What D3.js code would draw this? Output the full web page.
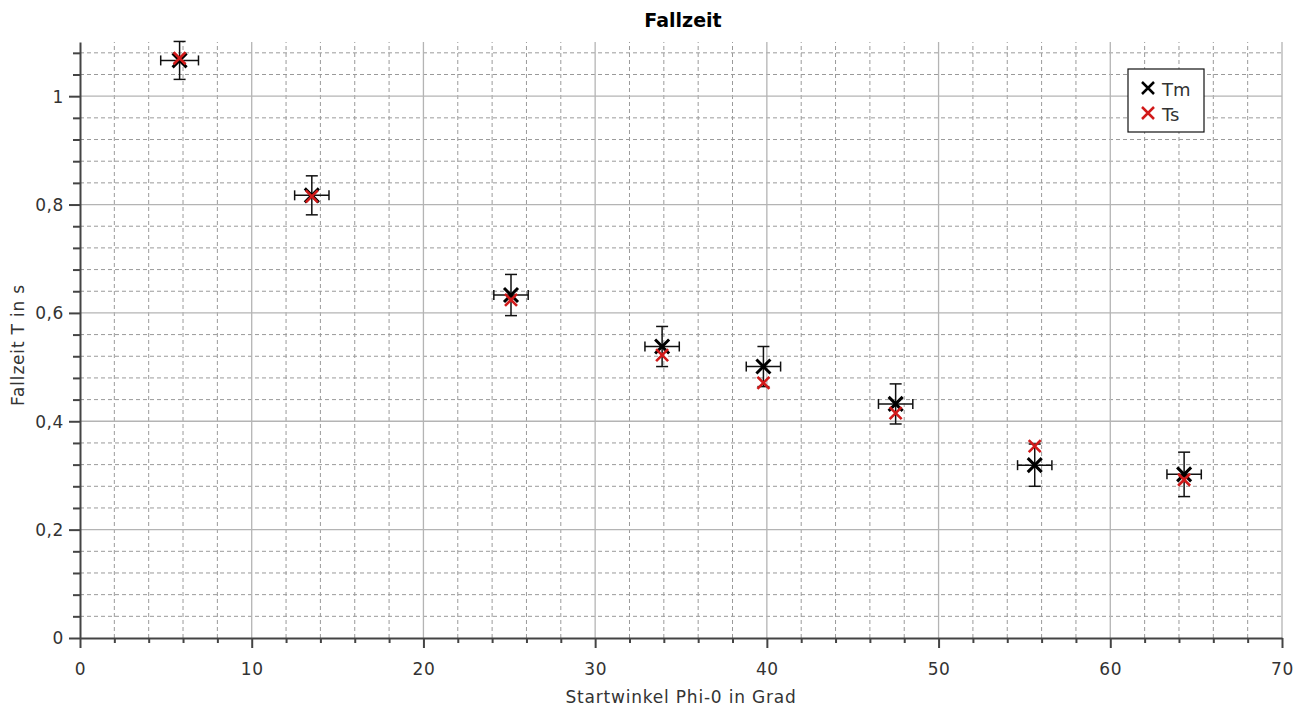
<!DOCTYPE html>
<html>
<head>
<meta charset="utf-8">
<script src="https://cdn.jsdelivr.net/npm/d3@7"></script>
<style>
  body { margin: 0; background: #fff; }
  text { font-family: "DejaVu Sans", sans-serif; }
</style>
</head>
<body>
<svg width="1301" height="707"></svg>
<script>
// winkel in grad
let phi = [5.8, 13.5, 25.1, 33.9, 39.8, 47.5, 55.6, 64.3];
let phiErr = [1.1, 1.0, 1.0, 1.0, 1.0, 1.0, 1.0, 1.0];
// gemessene fallzeit
let tm = [1.066, 0.817, 0.633, 0.538, 0.501, 0.432, 0.319, 0.302];
let tmErr = [0.035, 0.036, 0.038, 0.037, 0.037, 0.037, 0.039, 0.041];
// berechnete fallzeit
let ts = [1.070, 0.815, 0.624, 0.522, 0.471, 0.415, 0.354, 0.292];
let xTicks = [0, 10, 20, 30, 40, 50, 60, 70];
let yTicks = [0, 0.2, 0.4, 0.6, 0.8, 1];

var svg = d3.select("svg");
let plotLeft = 80, plotRight = 1282, plotTop = 42, plotBottom = 638;

let x = d3.scaleLinear().domain([0, 70]).range([plotLeft, plotRight]);
let y = d3.scaleLinear().domain([0, 1.1]).range([plotBottom, plotTop]);

let xMinor = d3.range(0, 70.01, 2).filter(d => d % 10 != 0);
let yMinor = d3.range(0, 1.101, 0.04).map(d => +d.toFixed(2)).filter(d => Math.abs(d * 5 - Math.round(d * 5)) > 1e-6);

// gitter
let grid = svg.append("g");
grid.selectAll(".xm").data(xMinor).enter().append("line")
  .attr("x1", d => x(d)).attr("x2", d => x(d))
  .attr("y1", plotBottom).attr("y2", plotTop)
  .attr("stroke", "#9a9a9a").attr("stroke-dasharray", "4,3");
grid.selectAll(".ym").data(yMinor).enter().append("line")
  .attr("x1", plotLeft).attr("x2", plotRight)
  .attr("y1", d => y(d)).attr("y2", d => y(d))
  .attr("stroke", "#9a9a9a").attr("stroke-dasharray", "4,3");
grid.selectAll(".xM").data(xTicks.slice(1)).enter().append("line")
  .attr("x1", d => x(d)).attr("x2", d => x(d))
  .attr("y1", plotBottom).attr("y2", plotTop)
  .attr("stroke", "#b4b4b4").attr("stroke-width", 1.3);
grid.selectAll(".yM").data(yTicks.slice(1)).enter().append("line")
  .attr("x1", plotLeft).attr("x2", plotRight)
  .attr("y1", d => y(d)).attr("y2", d => y(d))
  .attr("stroke", "#b4b4b4").attr("stroke-width", 1.3);

// achsen
let fmt = d => String(d).replace(".", ",");
let xAxis = svg.append("g").attr("transform", "translate(0," + plotBottom + ")")
  .call(d3.axisBottom(x).tickValues(xTicks).tickFormat(fmt).tickSize(10).tickSizeOuter(0));
svg.append("g").attr("transform", "translate(0," + plotBottom + ")")
  .call(d3.axisBottom(x).tickValues(xMinor).tickFormat("").tickSize(5).tickSizeOuter(0))
  .select(".domain").remove();
let yAxis = svg.append("g").attr("transform", "translate(" + plotLeft + ",0)")
  .call(d3.axisLeft(y).tickValues(yTicks).tickFormat(fmt).tickSize(11).tickSizeOuter(0));
svg.append("g").attr("transform", "translate(" + plotLeft + ",0)")
  .call(d3.axisLeft(y).tickValues(yMinor).tickFormat("").tickSize(7).tickSizeOuter(0))
  .select(".domain").remove();

svg.selectAll(".domain").attr("stroke", "#444").attr("stroke-width", 2);
svg.selectAll(".tick line").attr("stroke", "#444").attr("stroke-width", 2);
svg.selectAll(".tick text").attr("font-size", 17).attr("fill", "#333")
  .attr("letter-spacing", 0.6)
  .attr("font-family", "DejaVu Sans, sans-serif");
xAxis.selectAll(".tick text").attr("y", 37).attr("dy", 0);
yAxis.selectAll(".tick text").attr("x", -16).attr("dy", "0.35em");

// titel und beschriftung
svg.append("text").attr("x", 683).attr("y", 27).attr("text-anchor", "middle")
  .attr("font-family", "Liberation Sans, Arial, sans-serif")
  .attr("font-size", 19).attr("font-weight", "bold").text("Fallzeit");
svg.append("text").attr("x", 681).attr("y", 703).attr("text-anchor", "middle")
  .attr("font-size", 17).attr("letter-spacing", 0.8).attr("fill", "#333").text("Startwinkel Phi-0 in Grad");
svg.append("text").attr("transform", "translate(24,345) rotate(-90)").attr("text-anchor", "middle")
  .attr("font-size", 17).attr("letter-spacing", 0.8).attr("fill", "#333").text("Fallzeit T in s");

// fehlerbalken
let data = phi.map((p, i) => ({ phi: p, pe: phiErr[i], tm: tm[i], te: tmErr[i], ts: ts[i] }));
let eb = svg.append("g").attr("stroke", "#111").attr("stroke-width", 1.5);
data.forEach(function (d) {
  let cx = x(d.phi), cy = y(d.tm);
  let y1 = y(d.tm + d.te), y2 = y(d.tm - d.te);
  let x1 = x(d.phi - d.pe), x2 = x(d.phi + d.pe);
  eb.append("line").attr("x1", cx).attr("x2", cx).attr("y1", y1).attr("y2", y2);
  eb.append("line").attr("x1", cx - 6).attr("x2", cx + 6).attr("y1", y1).attr("y2", y1);
  eb.append("line").attr("x1", cx - 6).attr("x2", cx + 6).attr("y1", y2).attr("y2", y2);
  eb.append("line").attr("x1", x1).attr("x2", x2).attr("y1", cy).attr("y2", cy);
  eb.append("line").attr("x1", x1).attr("x2", x1).attr("y1", cy - 5).attr("y2", cy + 5);
  eb.append("line").attr("x1", x2).attr("x2", x2).attr("y1", cy - 5).attr("y2", cy + 5);
});

function cross(g, cx, cy, r, color, w) {
  g.append("path")
    .attr("d", "M" + (cx - r) + "," + (cy - r) + "L" + (cx + r) + "," + (cy + r) +
      "M" + (cx - r) + "," + (cy + r) + "L" + (cx + r) + "," + (cy - r))
    .attr("stroke", color).attr("stroke-width", w).attr("fill", "none");
}

let marks = svg.append("g");
data.forEach(d => cross(marks, x(d.phi), y(d.tm), 7, "#000", 3));
data.forEach(d => cross(marks, x(d.phi), y(d.ts), 6, "#d11a1a", 2.6));

// legende
let lg = svg.append("g");
lg.append("rect").attr("x", 1128).attr("y", 69).attr("width", 76).attr("height", 63)
  .attr("fill", "#fff").attr("stroke", "#111").attr("stroke-width", 1.2);
cross(lg, 1148, 88, 6, "#000", 2.5);
cross(lg, 1148, 113, 6, "#d11a1a", 2.5);
lg.append("text").attr("x", 1162).attr("y", 96).attr("font-size", 18).attr("fill", "#333").text("Tm");
lg.append("text").attr("x", 1162).attr("y", 121).attr("font-size", 18).attr("fill", "#333").text("Ts");
</script>
</body>
</html>
